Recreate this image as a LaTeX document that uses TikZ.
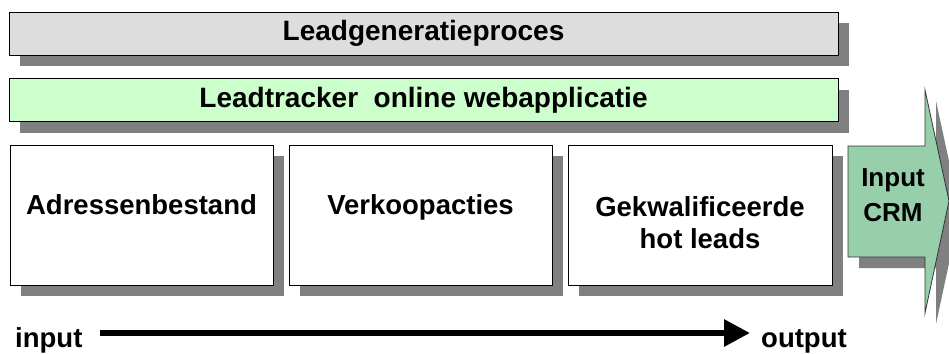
\documentclass[tikz,border=0pt]{standalone}
\usepackage{fontspec}
\setmainfont{Liberation Sans}
\usetikzlibrary{shadows,arrows.meta}
\definecolor{shadowgray}{RGB}{128,128,128}
\definecolor{bandgray}{RGB}{221,221,221}
\definecolor{bandgreen}{RGB}{204,255,204}
\definecolor{crmgreen}{RGB}{150,207,170}
\tikzset{
  boxfont/.style={font=\fontsize{27.5}{32}\selectfont\bfseries},
  bandfont/.style={font=\fontsize{28}{32}\selectfont\bfseries},
  shadebox/.style={draw=black, line width=0.8pt,
    general shadow={fill=shadowgray, shadow xshift=11pt, shadow yshift=-11pt}},
  band/.style={shadebox, minimum width=829pt, minimum height=43pt, inner sep=0pt, bandfont},
  stagebox/.style={shadebox, fill=white, minimum height=140pt, inner sep=0pt},
  stagetext/.style={boxfont, align=center, inner sep=0pt},
  flow/.style={line width=6pt, -{Triangle[length=26pt,width=26pt]}, shorten >=-2pt},
}
\begin{document}
\begin{tikzpicture}[x=1pt,y=-1pt]
  \useasboundingbox (0,0) rectangle (949,353);

  % process bands
  \node[band, fill=bandgray]  (proc)  at (423.5,33.5) {Leadgeneratieproces};
  \node[band, fill=bandgreen] (track) at (423.5,100)  {Leadtracker\ \ online webapplicatie};

  % stage boxes
  \node[stagebox, minimum width=263pt] (b1) at (141.5,215) {};
  \node[stagebox, minimum width=263pt] (b2) at (420.5,215) {};
  \node[stagebox, minimum width=264pt] (b3) at (700,215)   {};
  \node[stagetext, text height=20pt, text depth=6pt] (t1) at (141.5,207) {Adressenbestand};
  \node[stagetext, text height=20pt, text depth=6pt] (t2) at (420.5,207) {Verkoopacties};
  \node[stagetext] (t3) at (700,223) {Gekwalificeerde\\hot leads};

  % CRM block arrow with its shadow
  \fill[shadowgray] (859,157) -- (936,157) -- (936,101) -- (960,212) -- (936,324)
    -- (936,268) -- (859,268) -- cycle;
  \draw[fill=crmgreen, draw=black!80, line width=0.8pt]
    (848,146) -- (925,146) -- (925,90) -- (949,201) -- (925,313)
    -- (925,257) -- (848,257) -- cycle;
  \node[align=center, inner sep=0pt, font=\fontsize{26}{29}\selectfont\bfseries]
    (crm) at (893,195) {Input\\[6pt]CRM};

  % input -> output flow
  \node[boxfont, anchor=base west, inner sep=0pt] (in)  at (15,347)  {input};
  \node[boxfont, anchor=base west, inner sep=0pt] (out) at (761,347) {output};
  \coordinate (fs) at (100,333);
  \coordinate (fe) at (748,333);
  \draw[flow] (fs) -- (fe);
\end{tikzpicture}
\end{document}
